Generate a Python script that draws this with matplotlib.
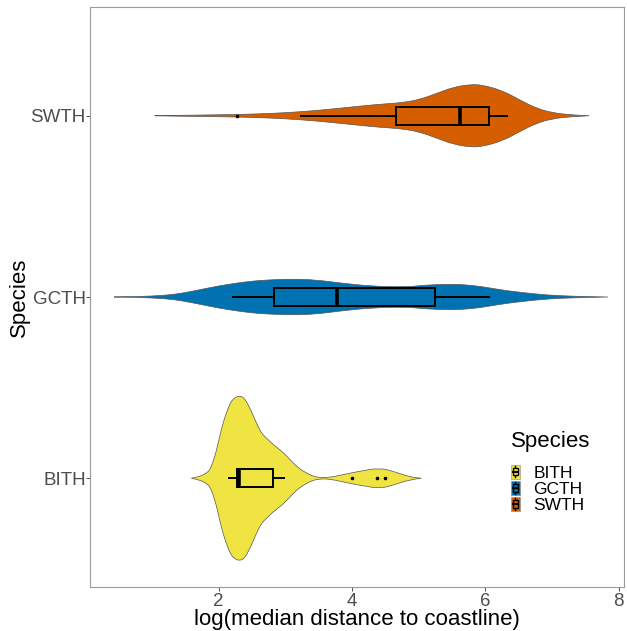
import numpy as np
import matplotlib
matplotlib.use("Agg")
import matplotlib.pyplot as plt
from matplotlib.patches import Rectangle, PathPatch
from matplotlib.path import Path
from matplotlib.lines import Line2D
from matplotlib.legend_handler import HandlerBase

plt.rcParams["font.family"] = ["Liberation Sans", "DejaVu Sans"]

# species, bottom to top
species = ["BITH", "GCTH", "SWTH"]
colors = ["#F0E442", "#0072B2", "#D55E00"]

# violin outlines: x (log distance) and half-width (density, px units)
bith_x = [1.59, 1.64, 1.715, 1.765, 1.815, 1.865, 1.91, 1.965, 2.015, 2.065, 2.115, 2.165,
          2.21, 2.265, 2.315, 2.365, 2.415, 2.49, 2.565, 2.64, 2.715, 2.815, 2.915, 3.015,
          3.115, 3.215, 3.315, 3.415, 3.515, 3.66, 3.915, 4.115, 4.415, 4.615, 4.865, 5.04]
bith_d = [0, 0.7, 2, 3.3, 5.3, 8, 15.3, 27, 42, 55, 65, 73.7,
          78.7, 81.3, 82, 81, 77, 67, 55.3, 45, 40.3, 33.7, 28.7, 22.7,
          15.3, 9.3, 5.3, 2, 0.7, 0.7, 4.3, 7, 10.3, 7, 1.3, 0]
gcth_x = [0.43, 0.77, 1.22, 1.47, 1.72, 1.97, 2.21, 2.47, 2.72, 3.11, 3.47, 3.82, 4.31,
          4.82, 5.06, 5.47, 5.81, 6.07, 6.32, 6.62, 6.92, 7.32, 7.84]
gcth_d = [0, 0.3, 1.7, 4, 7.3, 10.7, 13.3, 15.7, 17, 18, 17, 14, 10.7,
          10, 11.7, 13, 11.7, 9, 6.3, 4, 2, 0.7, 0]
swth_x = [1.04, 1.27, 1.61, 2.27, 2.81, 3.23, 3.56, 4.0, 4.41, 4.75, 5.02, 5.27, 5.51,
          5.77, 5.96, 6.26, 6.52, 6.77, 7.01, 7.26, 7.56]
swth_d = [0, 0.3, 0.6, 1.2, 2.3, 4.0, 5.8, 8.8, 11.5, 13.0, 16.3, 22.3, 28.3,
          31.3, 30.7, 25, 15.7, 7.3, 3, 1, 0]

# boxplot stats: whisker low, q1, median, q3, whisker high, outliers
bith_box = [2.155, 2.28, 2.31, 2.815, 2.975]
bith_out = [4.005, 4.38, 4.50]
gcth_box = [2.215, 2.83, 3.78, 5.245, 6.05]
gcth_out = []
swth_box = [3.23, 4.655, 5.625, 6.055, 6.33]
swth_out = [2.27]

violins = [(bith_x, bith_d), (gcth_x, gcth_d), (swth_x, swth_d)]
boxes = [(bith_box, bith_out), (gcth_box, gcth_out), (swth_box, swth_out)]

fig = plt.figure(figsize=(6.27, 6.31), dpi=100)
ax = fig.add_axes([90 / 627, 44 / 631, 534 / 627, 580 / 631])

scale = 1 / 181.0


def smooth_edge(pts):
    # quadratic bezier through midpoints, so the outline is drawn smooth
    verts = [pts[0]]
    codes = []
    for i in range(1, len(pts) - 1):
        mid = ((pts[i][0] + pts[i + 1][0]) / 2, (pts[i][1] + pts[i + 1][1]) / 2)
        verts += [pts[i], mid]
        codes += [Path.CURVE3, Path.CURVE3]
    verts.append(pts[-1])
    codes.append(Path.LINETO)
    return verts, codes


for i, (vx, vd) in enumerate(violins):
    pos = i + 1
    up = [(x, pos + d * scale) for x, d in zip(vx, vd)]
    lo = [(x, pos - d * scale) for x, d in zip(vx, vd)][::-1]
    v1, c1 = smooth_edge(up)
    v2, c2 = smooth_edge(lo)
    verts = v1 + v2[1:] + [v1[0]]
    codes = [Path.MOVETO] + c1 + c2 + [Path.CLOSEPOLY]
    ax.add_patch(PathPatch(Path(verts, codes), facecolor=colors[i],
                           edgecolor="#555555", linewidth=0.5, zorder=1))

stats = []
for (b, out) in boxes:
    stats.append({"whislo": b[0], "q1": b[1], "med": b[2], "q3": b[3],
                  "whishi": b[4], "fliers": out})
bp = ax.bxp(stats, positions=[1, 2, 3], orientation="horizontal", widths=0.1,
            patch_artist=True, showcaps=False, manage_ticks=False,
            boxprops=dict(linewidth=1.4, edgecolor="black"),
            whiskerprops=dict(linewidth=1.4, color="black"),
            medianprops=dict(linewidth=2.6, color="black", solid_capstyle="butt"),
            flierprops=dict(marker="o", markersize=1.6, markerfacecolor="black",
                            markeredgecolor="black", linestyle="none"))
for patch, c in zip(bp["boxes"], colors):
    patch.set_facecolor(c)
    patch.set_zorder(2)

ax.set_xlim(0.07, 8.08)
ax.set_ylim(0.4, 3.6)
ax.set_xticks([2, 4, 6, 8])
ax.set_yticks([1, 2, 3])
ax.set_yticklabels(species)
ax.tick_params(axis="both", colors="#4D4D4D", labelsize=13.5, length=2.8, width=0.7,
               labelcolor="#4D4D4D", pad=1.8)
ax.tick_params(axis="y", pad=0.3)
for s in ax.spines.values():
    s.set_color("#9a9a9a")
    s.set_linewidth(0.8)
ax.set_xlabel("log(median distance to coastline)", fontsize=16, labelpad=-1)
ax.set_ylabel("Species", fontsize=16, labelpad=0)


# legend key: colored rectangle with a small vertical boxplot glyph
class BoxKey(HandlerBase):
    def create_artists(self, legend, orig_handle, xdescent, ydescent, width, height,
                       fontsize, trans):
        c = orig_handle.get_facecolor()
        arts = [Rectangle((-xdescent, -ydescent), width, height, facecolor=c,
                          edgecolor="#888888", linewidth=0.4, transform=trans)]
        cx = -xdescent + width / 2
        arts.append(Line2D([cx, cx], [-ydescent + height * 0.1, -ydescent + height * 0.9],
                           color="black", linewidth=1.0, transform=trans))
        arts.append(Rectangle((cx - width * 0.3, -ydescent + height * 0.25), width * 0.6,
                              height * 0.5, facecolor=c, edgecolor="black",
                              linewidth=1.0, transform=trans))
        arts.append(Line2D([cx - width * 0.3, cx + width * 0.3],
                           [-ydescent + height * 0.5] * 2, color="black",
                           linewidth=1.4, transform=trans))
        return arts


handles = [Rectangle((0, 0), 1, 1, facecolor=c) for c in colors]
leg = fig.legend(handles, species, title="Species", loc="upper left",
                 bbox_to_anchor=(511 / 627, 1 - 431 / 631), frameon=False,
                 fontsize=12.5, title_fontsize=16, handler_map={Rectangle: BoxKey()},
                 handlelength=0.5, handleheight=0.9, handletextpad=0.8,
                 labelspacing=0.0, borderaxespad=0, borderpad=0)
leg._legend_box.align = "left"
leg._legend_box.sep = 9

fig.savefig("out.png", dpi=100)
